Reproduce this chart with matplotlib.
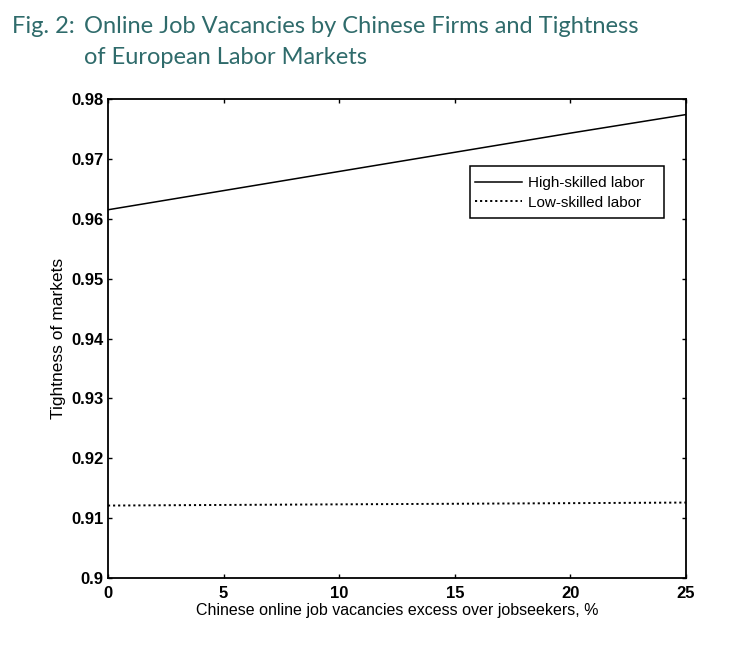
import matplotlib
matplotlib.use("Agg")
import matplotlib.pyplot as plt
from matplotlib.patches import Rectangle

# data
excess_pct = [0, 5, 10, 15, 20, 25]
high_skilled = [0.9615, 0.9647, 0.9679, 0.9711, 0.9743, 0.9774]
low_skilled = [0.9121, 0.9122, 0.9123, 0.9124, 0.9125, 0.9126]

x_ticks = [0, 5, 10, 15, 20, 25]
y_ticks = [0.9, 0.91, 0.92, 0.93, 0.94, 0.95, 0.96, 0.97, 0.98]
y_tick_labels = ["0.9", "0.91", "0.92", "0.93", "0.94", "0.95", "0.96", "0.97", "0.98"]


def main():
    plt.rcParams["font.family"] = ["Liberation Sans", "DejaVu Sans"]

    fig = plt.figure(figsize=(7.46, 6.56), dpi=100)
    ax = fig.add_axes([108 / 746, 1 - 578 / 656, 578 / 746, 479 / 656])

    ax.plot(excess_pct, high_skilled, color="black", lw=1.1, label="High-skilled labor")
    ax.plot(excess_pct, low_skilled, color="black", lw=1.4, linestyle=(0, (1.1, 1.5)),
            label="Low-skilled labor")

    ax.set_xlim(0, 25)
    ax.set_ylim(0.9, 0.98)
    ax.set_xticks(x_ticks)
    ax.set_yticks(y_ticks)
    ax.set_yticklabels(y_tick_labels)
    ax.tick_params(direction="in", top=True, right=True, length=3, width=1,
                   labelsize=12)
    ax.tick_params(axis="y", pad=3.5)
    ax.tick_params(axis="x", pad=6)
    for lab in ax.get_xticklabels() + ax.get_yticklabels():
        lab.set_fontweight("bold")
    for s in ax.spines.values():
        s.set_linewidth(1.3)

    ax.set_xlabel("Chinese online job vacancies excess over jobseekers, %", fontsize=11.5, labelpad=1)
    ax.set_ylabel("Tightness of markets", fontsize=12.5, labelpad=3.5)

    ax.legend(loc="upper left", bbox_to_anchor=(0.627, 0.848), fontsize=11,
              frameon=False, handlelength=3.1, handletextpad=0.4,
              borderpad=0.3, labelspacing=0.35, borderaxespad=0)
    # the frame in the picture is wider and taller than the entries
    ax.add_patch(Rectangle((0.626, 0.752), 0.336, 0.108, transform=ax.transAxes,
                           fill=False, edgecolor="black", lw=1.1, zorder=5))

    teal = "#2f6b6b"
    fig.text(12 / 746, 1 - 33 / 656, "Fig. 2:", color=teal, fontsize=17, family="Lato")
    fig.text(84 / 746, 1 - 33 / 656, "Online Job Vacancies by Chinese Firms and Tightness",
             color=teal, fontsize=17, family="Lato")
    fig.text(84 / 746, 1 - 64 / 656, "of European Labor Markets", color=teal, fontsize=17,
             family="Lato")

    fig.savefig("out.png", dpi=100, facecolor="white")


if __name__ == "__main__":
    main()
